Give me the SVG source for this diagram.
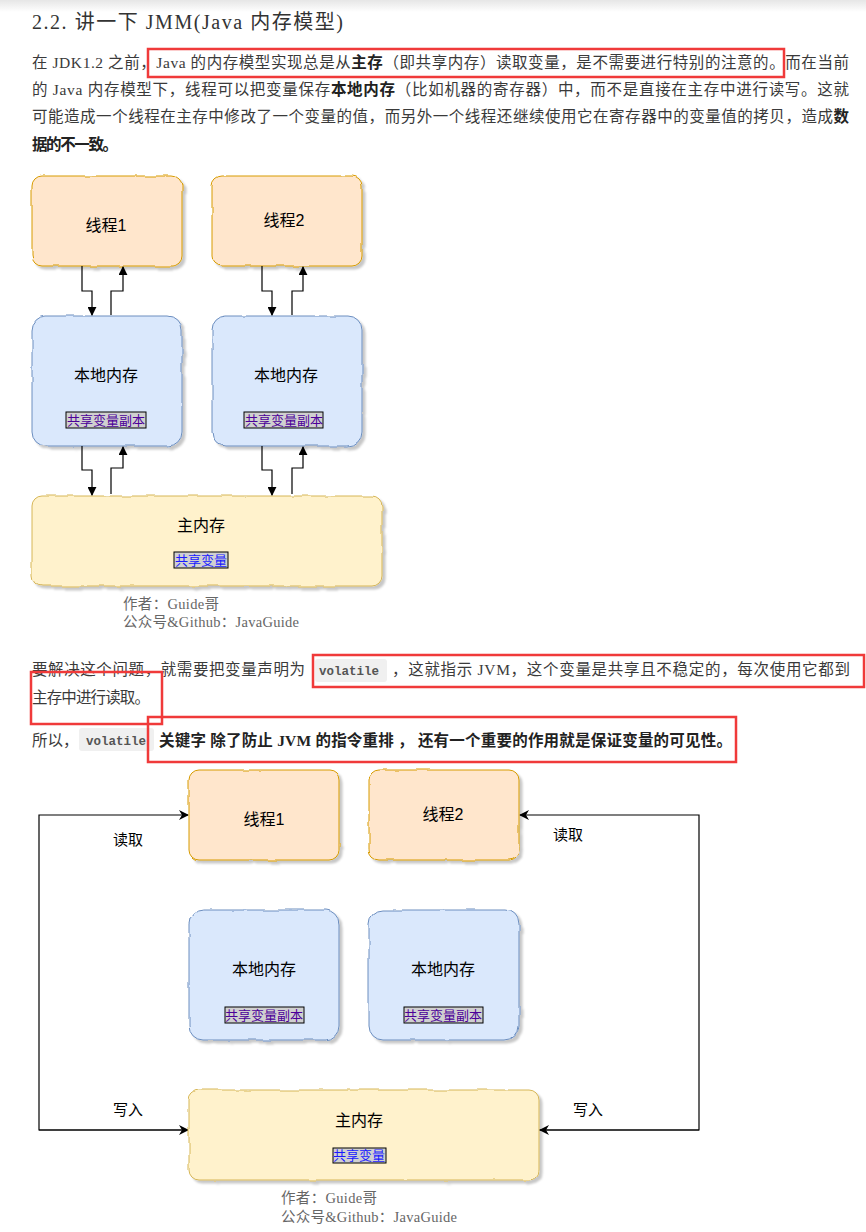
<svg xmlns="http://www.w3.org/2000/svg" width="866" height="1232" viewBox="0 0 866 1232">
<defs>
<linearGradient id="topShade" x1="0" y1="0" x2="0" y2="1">
<stop offset="0" stop-color="#e6e6e6"/>
<stop offset="1" stop-color="#ffffff"/>
</linearGradient>
<filter id="sk" x="-5%" y="-5%" width="115%" height="120%">
<feTurbulence type="fractalNoise" baseFrequency="0.05" numOctaves="2" seed="4" result="n"/>
<feDisplacementMap in="SourceGraphic" in2="n" scale="3" xChannelSelector="R" yChannelSelector="G" result="d"/>
<feDropShadow in="d" dx="3" dy="3" stdDeviation="1" flood-color="#000" flood-opacity="0.22"/>
</filter>
<marker id="blk" viewBox="0 0 10 10" refX="9" refY="5" markerWidth="9" markerHeight="9" markerUnits="userSpaceOnUse" orient="auto">
<path d="M0,0 L10,5 L0,10 Z" fill="#000"/>
</marker>
<marker id="cls" viewBox="0 0 10 10" refX="9" refY="5" markerWidth="10" markerHeight="10" markerUnits="userSpaceOnUse" orient="auto">
<path d="M0,0 L10,5 L0,10 L3,5 Z" fill="#000"/>
</marker>
</defs>
<style>
.p{font-family:"Liberation Serif","Noto Sans CJK SC",serif;font-size:15.5px;fill:#3a3a3a}
.b{font-weight:bold;fill:#222}
.code{font-family:"Liberation Mono",monospace;font-size:12.5px;font-weight:bold;fill:#555}
.cbg{fill:#f0f0f0}
.red{fill:none;stroke:#f03a3a;stroke-width:2.5}
.thr{fill:#ffe6cc;stroke:#d79b00;stroke-width:1}
.loc{fill:#dae8fc;stroke:#6c8ebf;stroke-width:1}
.mn{fill:#fff2cc;stroke:#d6b656;stroke-width:1}
.nt{font-family:"Liberation Sans","Noto Sans CJK SC",sans-serif;font-size:16px;fill:#000;text-anchor:middle}
.lbl{fill:#d0d0d0;stroke:#000;stroke-width:1}
.lt{font-family:"Liberation Sans","Noto Sans CJK SC",sans-serif;font-size:13px;text-anchor:middle}
.pur{fill:#4c0099}
.blu{fill:#1a1aff}
.au{font-family:"Liberation Serif","Noto Sans CJK SC",serif;font-size:14.5px;fill:#666}
.ln{fill:none;stroke:#000;stroke-width:1.2}
.el{font-family:"Liberation Sans","Noto Sans CJK SC",sans-serif;font-size:15px;fill:#000;text-anchor:middle}
</style>
<rect x="0" y="0" width="866" height="12" fill="url(#topShade)"/>

<g id="text-top">
<text x="32" y="29" font-family="Liberation Serif,Noto Sans CJK SC,serif" font-size="20" fill="#333" textLength="311">2.2. 讲一下 JMM(Java 内存模型)</text>
<text class="p" x="32" y="68" textLength="817">在 JDK1.2 之前，Java 的内存模型实现总是从<tspan class="b">主存</tspan>（即共享内存）读取变量，是不需要进行特别的注意的。而在当前</text>
<text class="p" x="32" y="95" textLength="817">的 Java 内存模型下，线程可以把变量保存<tspan class="b">本地内存</tspan>（比如机器的寄存器）中，而不是直接在主存中进行读写。这就</text>
<text class="p" x="32" y="122" textLength="817">可能造成一个线程在主存中修改了一个变量的值，而另外一个线程还继续使用它在寄存器中的变量值的拷贝，造成<tspan class="b">数</tspan></text>
<text class="p b" x="32" y="150" textLength="86">据的不一致。</text>
<rect class="red" x="148" y="49" width="636" height="28"/>
</g>

<g id="diagram1">
<g id="d1-thread1"><rect class="thr" x="32" y="176" width="150" height="90" rx="10" filter="url(#sk)"/><text class="nt" x="106" y="231">线程1</text></g>
<g id="d1-thread2"><rect class="thr" x="212" y="176" width="150" height="90" rx="10" filter="url(#sk)"/><text class="nt" x="284" y="226">线程2</text></g>
<g id="d1-local1"><rect class="loc" x="32" y="316" width="150" height="130" rx="14" filter="url(#sk)"/><text class="nt" x="106" y="381">本地内存</text><rect class="lbl" x="66" y="412" width="80" height="16"/><text class="lt pur" x="106" y="425">共享变量副本</text></g>
<g id="d1-local2"><rect class="loc" x="212" y="316" width="150" height="130" rx="14" filter="url(#sk)"/><text class="nt" x="286" y="381">本地内存</text><rect class="lbl" x="244" y="412" width="79" height="16"/><text class="lt pur" x="284" y="425">共享变量副本</text></g>
<g id="d1-main"><rect class="mn" x="32" y="496" width="350" height="90" rx="10" filter="url(#sk)"/><text class="nt" x="201" y="531">主内存</text><rect class="lbl" x="174" y="552" width="54" height="16"/><text class="lt blu" x="201" y="565">共享变量</text></g>
<g id="d1-connectors">
<path class="ln" d="M82,266 V291 H92 V315" marker-end="url(#blk)"/>
<path class="ln" d="M111,315 V291 H123 V267" marker-end="url(#blk)"/>
<path class="ln" d="M262,266 V291 H272 V315" marker-end="url(#blk)"/>
<path class="ln" d="M292,315 V291 H303 V267" marker-end="url(#blk)"/>
<path class="ln" d="M82,446 V470 H92 V495" marker-end="url(#blk)"/>
<path class="ln" d="M111,494 V468 H123 V447" marker-end="url(#blk)"/>
<path class="ln" d="M262,446 V470 H272 V495" marker-end="url(#blk)"/>
<path class="ln" d="M292,494 V468 H303 V447" marker-end="url(#blk)"/>
</g>
<text class="au" x="123" y="609" textLength="96">作者：Guide哥</text>
<text class="au" x="123" y="627" textLength="176">公众号&amp;Github：JavaGuide</text>
</g>

<g id="text-mid">
<rect class="cbg" x="315" y="659" width="72" height="23" rx="3"/>
<text class="p" x="32" y="675" textLength="273">要解决这个问题，就需要把变量声明为</text>
<text class="code" x="319" y="675">volatile</text>
<text class="p" x="392" y="675" textLength="458">，这就指示 JVM，这个变量是共享且不稳定的，每次使用它都到</text>
<text class="p" x="32" y="703" textLength="118">主存中进行读取。</text>
<rect class="cbg" x="79" y="728" width="75" height="23" rx="3"/>
<text class="p" x="32" y="746">所以，</text>
<text class="code" x="86" y="745">volatile</text>
<text class="p b" x="159" y="746" font-size="16.5" textLength="573">关键字 除了防止 JVM 的指令重排 ， 还有一个重要的作用就是保证变量的可见性。</text>
<rect class="red" x="313" y="655" width="551" height="32"/>
<rect class="red" x="31" y="672" width="131" height="52"/>
<rect class="red" x="148" y="717" width="588" height="45"/>
</g>

<g id="diagram2">
<g id="d2-connectors">
<path class="ln" d="M189,1130 H39 V815 H188" marker-end="url(#cls)"/>
<path class="ln" d="M39,1130 H188" marker-end="url(#cls)"/>
<path class="ln" d="M539,1130 H699 V815 H520" marker-end="url(#cls)"/>
<path class="ln" d="M699,1130 H540" marker-end="url(#cls)"/>
<text class="el" x="128" y="845">读取</text>
<text class="el" x="568" y="840">读取</text>
<text class="el" x="128" y="1115">写入</text>
<text class="el" x="588" y="1115">写入</text>
</g>
<g id="d2-thread1"><rect class="thr" x="189" y="770" width="150" height="90" rx="10" filter="url(#sk)"/><text class="nt" x="264" y="825">线程1</text></g>
<g id="d2-thread2"><rect class="thr" x="369" y="770" width="150" height="90" rx="10" filter="url(#sk)"/><text class="nt" x="443" y="820">线程2</text></g>
<g id="d2-local1"><rect class="loc" x="189" y="910" width="150" height="130" rx="14" filter="url(#sk)"/><text class="nt" x="264" y="975">本地内存</text><rect class="lbl" x="225" y="1007" width="79" height="16"/><text class="lt pur" x="264" y="1020">共享变量副本</text></g>
<g id="d2-local2"><rect class="loc" x="369" y="910" width="150" height="130" rx="14" filter="url(#sk)"/><text class="nt" x="443" y="975">本地内存</text><rect class="lbl" x="404" y="1007" width="79" height="16"/><text class="lt pur" x="443" y="1020">共享变量副本</text></g>
<g id="d2-main"><rect class="mn" x="189" y="1090" width="350" height="90" rx="10" filter="url(#sk)"/><text class="nt" x="359" y="1126">主内存</text><rect class="lbl" x="333" y="1148" width="53" height="15"/><text class="lt blu" x="359" y="1160">共享变量</text></g>
<text class="au" x="281" y="1203" textLength="96">作者：Guide哥</text>
<text class="au" x="281" y="1222" textLength="176">公众号&amp;Github：JavaGuide</text>
</g>
</svg>
